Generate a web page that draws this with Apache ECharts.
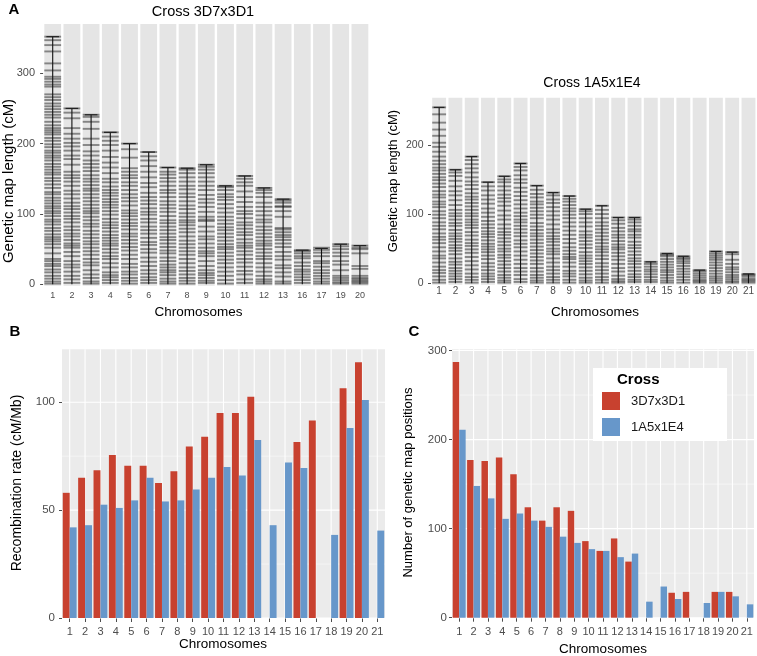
<!DOCTYPE html>
<html><head><meta charset="utf-8">
<script src="https://cdn.jsdelivr.net/npm/echarts@6/dist/echarts.min.js"></script>
<style>html,body{margin:0;padding:0;background:#fff}#c{width:757px;height:656px}</style>
</head><body><div id="c"></div>
<script>
const FONT = '"Liberation Sans", Arial, Helvetica, sans-serif';

// ---------- Panel A, cross 3D7x3D1 ----------
const chromA1 = ['1','2','3','4','5','6','7','8','9','10','11','12','13','16','17','19','20'];
const lengthA1 = [352,250,241,216,200,188,166,165,170,140,154,137,121,48.5,51,57,55];
const markersA1 = [
  [1,4,8,12,17,21,26,29,33,36,44,52,57,61,64,67,71,76,80,85,89,92,97,101,104,108,111,115,119,123,128,131,137,142,147,151,156,159,163,167,171,176,180,183,187,190,195,199,204,208,213,216,219,222,226,231,237,241,245,249,253,257,262,266,270,281,284,288,292,295,304,314,331,340,347,352],
  [2,7,12,18,24,28,33,40,46,52,55,58,63,68,72,77,82,88,93,97,102,107,111,116,122,128,133,140,146,151,155,160,170,178,183,190,196,201,207,214,222,236,244,250],
  [1,4,9,14,20,27,31,36,42,47,52,57,61,66,71,76,82,86,91,96,101,104,108,113,118,123,128,133,136,141,146,150,155,161,166,171,176,183,189,198,207,221,231,238,241],
  [2,6,10,13,17,24,30,36,40,45,50,55,58,62,66,70,75,80,84,88,93,99,104,109,113,117,121,126,130,134,139,145,150,158,166,173,181,190,198,204,210,216],
  [1,5,9,14,18,24,29,36,42,48,53,58,63,68,72,78,83,87,92,97,101,105,112,118,123,128,134,140,145,151,155,160,165,180,192,200],
  [2,6,10,15,20,26,32,38,45,50,56,60,66,72,77,82,88,93,99,103,108,114,119,124,130,138,144,152,160,168,176,182,188],
  [1,4,8,13,17,20,24,28,33,38,44,48,53,58,63,67,72,77,82,87,91,97,103,108,113,118,124,130,134,140,146,151,156,160,166],
  [1,5,9,14,19,24,30,36,42,47,52,57,62,68,74,79,84,88,91,96,101,107,112,118,124,129,135,140,146,152,158,163,165],
  [2,5,9,13,16,20,26,33,40,44,47,52,58,64,68,75,82,90,92,96,103,110,116,121,127,134,140,146,152,158,163,167,170],
  [1,6,12,18,24,30,35,40,45,50,53,57,62,67,72,77,81,86,91,96,102,108,114,120,124,128,134,138,140],
  [2,7,14,19,25,31,36,42,47,52,55,59,64,70,74,79,84,88,94,100,104,110,117,124,132,140,145,150,154],
  [1,4,7,12,18,24,30,36,40,45,50,55,58,62,67,72,77,82,88,92,98,104,110,116,124,130,134,137],
  [1,4,11,17,23,27,35,40,46,53,58,63,67,70,74,78,80,96,104,110,111,116,119,121],
  [2,6,10,14,18,21,26,31,37,40,44,47,48.5],
  [1,4,8,12,16,20,25,30,33,40,45,49,52],
  [1,3,6,9,12,20,28,33,40,45,50,54,57],
  [1,3,5,7,9,12,22,26,44,50,52,55]
];
const ticksA1 = [0,100,200,300];

// ---------- Panel A, cross 1A5x1E4 ----------
const chromA2 = ['1','2','3','4','5','6','7','8','9','10','11','12','13','14','15','16','18','19','20','21'];
const lengthA2 = [254,164,183,146,154.5,173,141,131,126,107,112,95,95,31,43,39,19,46,45,13.5];
const markersA2 = [
  [1,5,10,15,19,24,30,36,40,46,52,58,63,67,72,78,83,88,94,99,104,110,114,118,124,128,133,139,144,149,153,158,163,167,172,177,183,190,197,203,213,222,232,244,254],
  [2,6,10,14,18,22,27,31,36,42,47,51,55,60,64,68,72,77,83,87,92,97,101,106,113,120,127,133,140,148,155,160,164],
  [1,5,9,14,20,26,32,38,44,49,54,58,63,69,74,80,84,88,92,97,101,106,111,116,121,125,130,136,142,147,153,160,166,172,178,183],
  [2,6,10,14,19,24,29,35,40,45,49,53,57,62,67,71,75,80,85,90,96,102,108,115,121,127,134,140,146],
  [1,4,8,12,17,22,27,32,37,41,46,50,55,60,65,70,74,79,85,92,98,105,112,118,123,128,134,140,146,150,154.5],
  [2,6,12,17,22,28,34,40,46,52,57,62,68,73,78,83,88,92,97,102,108,114,120,126,132,138,145,150,156,163,168,173],
  [1,4,8,12,17,22,28,33,38,43,48,53,58,63,68,72,77,82,87,94,99,104,109,114,118,124,129,135,141],
  [1,5,9,14,19,24,30,36,42,46,50,55,60,64,68,73,78,85,92,98,104,110,116,121,127,131],
  [1,5,10,14,18,24,30,35,38,42,47,52,58,64,70,76,82,88,94,99,104,108,113,118,122,126],
  [1,4,8,13,18,23,28,32,36,40,45,51,56,61,66,70,75,82,88,94,100,104,107],
  [1,5,9,14,19,24,29,35,40,45,49,53,58,63,68,73,78,83,88,94,100,106,112],
  [1,3,6,11,17,22,28,34,39,44,49,52,56,61,66,70,75,80,86,91,95],
  [2,5,9,13,18,23,28,32,36,41,46,51,55,60,66,70,75,78,83,88,92,95],
  [2,5,9,13,17,20,24,28,31],
  [1,4,8,12,16,19,23,27,31,35,39,41,43],
  [1,5,9,13,17,21,25,29,32,35,37,39],
  [1,3,5,8,11,14,17,19],
  [1,4,7,10,14,18,22,26,30,34,37,40,43,46],
  [1,3,6,9,12,16,20,23,28,34,42,45],
  [1,3,5,7,10,12,13.5]
];
const ticksA2 = [0,100,200];

// ---------- Panels B and C ----------
const chromBC = ['1','2','3','4','5','6','7','8','9','10','11','12','13','14','15','16','17','18','19','20','21'];
const rate3D7 = [58,65,68.5,75.5,70.5,70.5,62.5,68,79.5,84,95,95,102.5,null,null,81.5,91.5,null,106.5,118.5,null];
const rate1A5 = [42,43,52.5,51,54.5,65,54,54.5,59.5,65,70,66,82.5,43,72,69.5,null,38.5,88,101,40.5];
const ticksB = [0,50,100];
const minorB = [25,75];
const pos3D7 = [287,177,176,180,161,124,109,124,120,86,75,89,63,null,null,28,29,null,29,29,null];
const pos1A5 = [211,148,134,111,117,109,102,91,84,77,75,68,72,18,35,21,null,16.5,29,24,15];
const ticksC = [0,100,200,300];
const minorC = [50,150,250];

const RED = '#C8412F', BLUE = '#6797CA';
const COLGAP = 2.4;

function bgItem(ymax){
  return function(params, api){
    const i = api.value(0);
    const t = api.coord([i, ymax]);
    const b = api.coord([i, 0]);
    const w = api.size([1, 0])[0];
    return {type:'rect', silent:true,
      shape:{x:t[0]-w/2+COLGAP/2, y:t[1], width:w-COLGAP, height:b[1]-t[1]+1.5},
      style:{fill:'#E5E5E5'}};
  };
}
function markItem(params, api){
  const i = api.value(0), v = api.value(1);
  const p = api.coord([i, v]);
  const w = api.size([1, 0])[0];
  return {type:'line', silent:true,
    shape:{x1:p[0]-w/2+COLGAP/2, y1:p[1], x2:p[0]+w/2-COLGAP/2, y2:p[1]},
    style:{stroke:'rgba(35,35,35,0.5)', lineWidth:1.9}};
}
function stemItem(params, api){
  const i = api.value(0), L = api.value(1);
  const a = api.coord([i, 0]), b = api.coord([i, L]);
  const w = api.size([1, 0])[0];
  return {type:'group', silent:true, children:[
    {type:'line', shape:{x1:a[0], y1:a[1], x2:b[0], y2:b[1]}, style:{stroke:'#111', lineWidth:1.1}},
    {type:'line', shape:{x1:b[0]-w*0.33, y1:b[1], x2:b[0]+w*0.33, y2:b[1]}, style:{stroke:'#222', lineWidth:1.2}}
  ]};
}
function vgridItem(params, api){
  const x = api.coord([api.value(0), 0])[0];
  const cs = params.coordSys;
  return {type:'line', silent:true, shape:{x1:x, y1:cs.y, x2:x, y2:cs.y+cs.height},
    style:{stroke:'#FFFFFF', lineWidth:1.1}};
}
function hgridItem(width){
  return function(params, api){
    const y = api.coord([0, api.value(1)])[1];
    const cs = params.coordSys;
    return {type:'line', silent:true, shape:{x1:cs.x, y1:y, x2:cs.x+cs.width, y2:y},
      style:{stroke:'#FFFFFF', lineWidth:width}};
  };
}

function flatMarks(list){
  const out = [];
  list.forEach((arr, i) => arr.forEach(v => out.push([i, v])));
  return out;
}

const catAxisA = (gi, data, fs, margin) => ({
  gridIndex:gi, type:'category', data:data, boundaryGap:true,
  axisLine:{show:false}, axisTick:{show:false}, splitLine:{show:false},
  axisLabel:{interval:0, fontSize:fs, color:'#4D4D4D', margin:margin, fontFamily:FONT}
});
const valAxis = (gi, max, ticks, fs, margin) => ({
  gridIndex:gi, type:'value', min:0, max:max,
  axisLine:{show:false},
  axisTick:{show:true, length:3, lineStyle:{color:'#4D4D4D'}, customValues:ticks},
  axisLabel:{customValues:ticks, fontSize:fs, color:'#4D4D4D', margin:margin, fontFamily:FONT},
  splitLine:{show:false}
});
const catAxisBC = (gi, margin) => ({
  gridIndex:gi, type:'category', data:chromBC, boundaryGap:true,
  axisLine:{show:false},
  axisTick:{show:true, alignWithLabel:true, length:4, lineStyle:{color:'#4D4D4D'}},
  splitLine:{show:false},
  axisLabel:{interval:0, fontSize:11, color:'#4D4D4D', margin:margin, fontFamily:FONT}
});

const A1max = 370, A2max = 268;

const option = {
  animation:false,
  textStyle:{fontFamily:FONT},
  grid:[
    {left:43.1, top:24, width:326.4, height:260.3, show:false},
    {left:431, top:97.7, width:327, height:185.6, show:false},
    {left:62, top:349.3, width:323, height:268.7, show:true, backgroundColor:'#EBEBEB', borderWidth:0},
    {left:452, top:349.3, width:302, height:268.4, show:true, backgroundColor:'#EBEBEB', borderWidth:0}
  ],
  xAxis:[
    catAxisA(0, chromA1, 9, 7),
    catAxisA(1, chromA2, 10, 3),
    catAxisBC(2, 8),
    catAxisBC(3, 9)
  ],
  yAxis:[
    valAxis(0, A1max, ticksA1, 11, 8),
    valAxis(1, A2max, ticksA2, 10.5, 7.5),
    valAxis(2, 124.5, ticksB, 11.5, 7),
    valAxis(3, 301.4, ticksC, 11.5, 5)
  ],
  legend:{
    data:['3D7x3D1','1A5x1E4'], orient:'vertical', left:602, top:392,
    itemWidth:18, itemHeight:18, itemGap:8, icon:'rect', padding:0, z:20,
    textStyle:{fontSize:13, color:'#1A1A1A', padding:[0,0,0,6], fontFamily:FONT},
    selectedMode:false
  },
  graphic:[
    {type:'rect', left:593, top:368, shape:{width:134, height:73}, style:{fill:'#FFFFFF'}, z:3},
    {type:'text', x:617, y:380, style:{text:'Cross', font:'bold 15px '+FONT, fill:'#000', textVerticalAlign:'middle'}, z:6},
    {type:'text', x:14, y:10, style:{text:'A', font:'bold 15px '+FONT, fill:'#000', textAlign:'center', textVerticalAlign:'middle'}, z:6},
    {type:'text', x:15, y:332, style:{text:'B', font:'bold 15px '+FONT, fill:'#000', textAlign:'center', textVerticalAlign:'middle'}, z:6},
    {type:'text', x:414, y:332, style:{text:'C', font:'bold 15px '+FONT, fill:'#000', textAlign:'center', textVerticalAlign:'middle'}, z:6},
    {type:'text', x:203, y:12, style:{text:'Cross 3D7x3D1', font:'14.5px '+FONT, fill:'#000', textAlign:'center', textVerticalAlign:'middle'}, z:6},
    {type:'text', x:592, y:83, style:{text:'Cross 1A5x1E4', font:'14px '+FONT, fill:'#000', textAlign:'center', textVerticalAlign:'middle'}, z:6},
    {type:'text', x:198.5, y:312, style:{text:'Chromosomes', font:'13.5px '+FONT, fill:'#000', textAlign:'center', textVerticalAlign:'middle'}, z:6},
    {type:'text', x:595, y:312, style:{text:'Chromosomes', font:'13.5px '+FONT, fill:'#000', textAlign:'center', textVerticalAlign:'middle'}, z:6},
    {type:'text', x:223, y:644, style:{text:'Chromosomes', font:'13.5px '+FONT, fill:'#000', textAlign:'center', textVerticalAlign:'middle'}, z:6},
    {type:'text', x:603, y:649, style:{text:'Chromosomes', font:'13.5px '+FONT, fill:'#000', textAlign:'center', textVerticalAlign:'middle'}, z:6},
    {type:'text', x:9, y:181, rotation:Math.PI/2, style:{text:'Genetic map length (cM)', font:'15px '+FONT, fill:'#000', textAlign:'center', textVerticalAlign:'middle'}, z:6},
    {type:'text', x:393, y:181, rotation:Math.PI/2, style:{text:'Genetic map length (cM)', font:'13px '+FONT, fill:'#000', textAlign:'center', textVerticalAlign:'middle'}, z:6},
    {type:'text', x:17, y:483, rotation:Math.PI/2, style:{text:'Recombination rate (cM/Mb)', font:'14px '+FONT, fill:'#000', textAlign:'center', textVerticalAlign:'middle'}, z:6},
    {type:'text', x:408, y:482.5, rotation:Math.PI/2, style:{text:'Number of genetic map positions', font:'13px '+FONT, fill:'#000', textAlign:'center', textVerticalAlign:'middle'}, z:6}
  ],
  series:[
    {type:'custom', xAxisIndex:0, yAxisIndex:0, z:1, renderItem:bgItem(A1max), data:chromA1.map((c,i)=>[i, A1max])},
    {type:'custom', xAxisIndex:0, yAxisIndex:0, z:2, renderItem:markItem, data:flatMarks(markersA1)},
    {type:'custom', xAxisIndex:0, yAxisIndex:0, z:3, renderItem:stemItem, data:lengthA1.map((L,i)=>[i, L])},
    {type:'custom', xAxisIndex:1, yAxisIndex:1, z:1, renderItem:bgItem(A2max), data:chromA2.map((c,i)=>[i, A2max])},
    {type:'custom', xAxisIndex:1, yAxisIndex:1, z:2, renderItem:markItem, data:flatMarks(markersA2)},
    {type:'custom', xAxisIndex:1, yAxisIndex:1, z:3, renderItem:stemItem, data:lengthA2.map((L,i)=>[i, L])},

    {type:'custom', xAxisIndex:2, yAxisIndex:2, z:1, renderItem:vgridItem, data:chromBC.map((c,i)=>[i, 0])},
    {type:'custom', xAxisIndex:2, yAxisIndex:2, z:1, renderItem:hgridItem(1.1), data:ticksB.map(v=>[0, v])},
    {type:'custom', xAxisIndex:2, yAxisIndex:2, z:1, renderItem:hgridItem(0.5), data:minorB.map(v=>[0, v])},
    {type:'bar', name:'3D7x3D1', xAxisIndex:2, yAxisIndex:2, z:3, data:rate3D7, itemStyle:{color:RED}, barGap:'0%', barCategoryGap:'10%'},
    {type:'bar', name:'1A5x1E4', xAxisIndex:2, yAxisIndex:2, z:3, data:rate1A5, itemStyle:{color:BLUE}, barGap:'0%', barCategoryGap:'10%'},

    {type:'custom', xAxisIndex:3, yAxisIndex:3, z:1, renderItem:vgridItem, data:chromBC.map((c,i)=>[i, 0])},
    {type:'custom', xAxisIndex:3, yAxisIndex:3, z:1, renderItem:hgridItem(1.1), data:ticksC.map(v=>[0, v])},
    {type:'custom', xAxisIndex:3, yAxisIndex:3, z:1, renderItem:hgridItem(0.5), data:minorC.map(v=>[0, v])},
    {type:'bar', name:'3D7x3D1', xAxisIndex:3, yAxisIndex:3, z:3, data:pos3D7, itemStyle:{color:RED}, barGap:'0%', barCategoryGap:'10%'},
    {type:'bar', name:'1A5x1E4', xAxisIndex:3, yAxisIndex:3, z:3, data:pos1A5, itemStyle:{color:BLUE}, barGap:'0%', barCategoryGap:'10%'}
  ]
};

const chart = echarts.init(document.getElementById('c'), null, {renderer:'canvas'});
chart.setOption(option);
</script>
</body></html>
